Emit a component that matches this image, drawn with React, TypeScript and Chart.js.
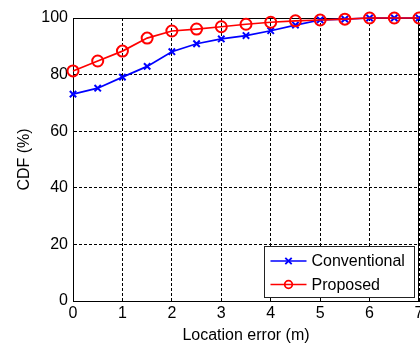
import React, { useEffect, useRef } from "react";
import { Chart, registerables } from "chart.js";

Chart.register(...registerables);

const xValues = [0, 0.5, 1, 1.5, 2, 2.5, 3, 3.5, 4, 4.5, 5, 5.5, 6, 6.5, 7];
const conventional = [73.1, 75.2, 79.1, 82.9, 88.1, 90.9, 92.6, 93.8, 95.5, 97.5, 99.3, 99.6, 100, 100, 100];
const proposed = [81.3, 84.8, 88.3, 92.9, 95.4, 96.1, 96.9, 97.8, 98.5, 99.0, 99.3, 99.6, 100, 100, 100];
const seriesNames = ["Conventional", "Proposed"];
const xTitle = "Location error (m)";
const yTitle = "CDF (%)";

const FONT = "'Liberation Sans', Arial, sans-serif";

const frameAndLegend = {
  id: "frameAndLegend",
  beforeDatasetsDraw(chart: any) {
    const { ctx, chartArea } = chart;
    ctx.save();
    ctx.strokeStyle = "#000";
    ctx.lineWidth = 1;
    ctx.setLineDash([]);
    ctx.beginPath();
    ctx.moveTo(chartArea.left, chartArea.top + 0.5);
    ctx.lineTo(chartArea.right, chartArea.top + 0.5);
    ctx.moveTo(chartArea.right - 0.5, chartArea.top);
    ctx.lineTo(chartArea.right - 0.5, chartArea.bottom);
    ctx.stroke();
    ctx.restore();
  },
  afterDraw(chart: any) {
    const { ctx, chartArea } = chart;
    const w = 150;
    const h = 51;
    const x0 = Math.round(chartArea.right - 5 - w) + 0.5;
    const y0 = Math.round(chartArea.bottom - 4 - h) + 0.5;
    ctx.save();
    ctx.fillStyle = "#fff";
    ctx.fillRect(x0, y0, w, h);
    ctx.strokeStyle = "#222";
    ctx.lineWidth = 1;
    ctx.setLineDash([]);
    ctx.strokeRect(x0, y0, w, h);
    const rows = [y0 + 14.5, y0 + 38];
    chart.data.datasets.forEach((ds: any, i: number) => {
      const y = rows[i];
      const lx1 = x0 + 6;
      const lx2 = x0 + 42;
      ctx.strokeStyle = ds.borderColor;
      ctx.lineWidth = 1.5;
      ctx.beginPath();
      ctx.moveTo(lx1, y);
      ctx.lineTo(lx2, y);
      ctx.stroke();
      const cx = (lx1 + lx2) / 2;
      ctx.lineWidth = 1.8;
      ctx.beginPath();
      if (ds.pointStyle === "circle") {
        ctx.arc(cx, y, 3.8, 0, Math.PI * 2);
      } else {
        const r = 3.2;
        ctx.moveTo(cx - r, y - r);
        ctx.lineTo(cx + r, y + r);
        ctx.moveTo(cx + r, y - r);
        ctx.lineTo(cx - r, y + r);
      }
      ctx.stroke();
      ctx.fillStyle = "#000";
      ctx.font = `16px ${FONT}`;
      ctx.textBaseline = "middle";
      ctx.textAlign = "left";
      ctx.fillText(ds.label, x0 + 47, y + 1);
    });
    ctx.restore();
  },
};

export default function App() {
  const ref = useRef<HTMLCanvasElement>(null);
  useEffect(() => {
    const canvas = ref.current!;
    const toXY = (arr: number[]) => arr.map((v, i) => ({ x: xValues[i], y: v }));
    const chart = new Chart(canvas, {
      type: "line",
      data: {
        datasets: [
          {
            label: seriesNames[0],
            data: toXY(conventional),
            borderColor: "#0000ff",
            backgroundColor: "rgba(0,0,0,0)",
            borderWidth: 1.7,
            pointStyle: "crossRot",
            pointRadius: 4.5,
            pointBorderWidth: 2,
            pointBorderColor: "#0000ff",
            order: 1,
            clip: false as any,
          },
          {
            label: seriesNames[1],
            data: toXY(proposed),
            borderColor: "#ff0000",
            backgroundColor: "rgba(0,0,0,0)",
            borderWidth: 1.7,
            pointStyle: "circle",
            pointRadius: 5.5,
            pointBorderWidth: 2,
            pointBorderColor: "#ff0000",
            pointBackgroundColor: "rgba(0,0,0,0)",
            order: 0,
            clip: false as any,
          },
        ],
      },
      options: {
        responsive: false,
        animation: false,
        layout: { autoPadding: false, padding: { top: 18, right: 1, left: 0, bottom: 0 } },
        plugins: { legend: { display: false }, tooltip: { enabled: false } },
        scales: {
          x: {
            type: "linear",
            min: 0,
            max: 7,
            afterFit: (s: any) => {
              s.height = 42;
              s.paddingRight = 0;
              s.paddingLeft = 0;
            },
            ticks: {
              stepSize: 1,
              color: "#000",
              font: { size: 16, family: FONT },
              padding: 3,
              maxRotation: 0,
            },
            grid: { color: "#000", lineWidth: 1, drawTicks: false },
            border: { display: true, color: "#000", width: 1, dash: [3, 2] },
            title: {
              display: true,
              text: xTitle,
              color: "#000",
              font: { size: 16, family: FONT },
              padding: { top: 0, bottom: -2 },
            },
          },
          y: {
            type: "linear",
            min: 0,
            max: 100,
            afterFit: (s: any) => {
              s.width = 73;
              s.paddingTop = 0;
              s.paddingBottom = 0;
            },
            ticks: {
              stepSize: 20,
              color: "#000",
              font: { size: 16, family: FONT },
              padding: 5,
            },
            grid: { color: "#000", lineWidth: 1, drawTicks: false },
            border: { display: true, color: "#000", width: 1, dash: [3, 2] },
            title: {
              display: true,
              text: yTitle,
              color: "#000",
              font: { size: 16, family: FONT },
              padding: { top: 15, bottom: 0 },
            },
          },
        },
      },
      plugins: [frameAndLegend],
    } as any);
    return () => chart.destroy();
  }, []);
  return (
    <div style={{ position: "fixed", left: 0, top: 0, width: 420, height: 343, background: "#fff" }}>
      <canvas ref={ref} width={420} height={343} />
    </div>
  );
}
